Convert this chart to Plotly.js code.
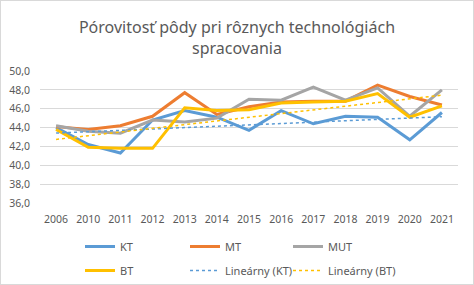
<!DOCTYPE html>
<html>
<head>
<meta charset="utf-8">
<script src="https://cdn.plot.ly/plotly-3.0.1.min.js"></script>
<style>
html,body{margin:0;padding:0;background:#fff;}
#wrap{position:absolute;left:0;top:0;width:472px;height:283px;border:1px solid #d9d9d9;}
#chart{position:absolute;left:-1px;top:-1px;width:474px;height:285px;}
</style>
</head>
<body>
<div id="wrap"><div id="chart"></div></div>
<script>
const years = ["2006","2010","2011","2012","2013","2014","2015","2016","2017","2018","2019","2020","2021"];
const KT  = [44.0,42.2,41.3,44.8,45.8,45.1,43.7,45.8,44.4,45.2,45.1,42.7,45.6];
const MT  = [44.1,43.8,44.2,45.2,47.7,45.4,46.2,46.7,46.8,46.8,48.5,47.3,46.4];
const MUT = [44.2,43.6,43.4,44.8,44.6,45.0,47.0,46.9,48.3,46.9,48.2,45.2,48.0];
const BT  = [43.8,41.9,41.8,41.8,46.1,45.8,45.9,46.6,46.7,46.8,47.6,45.1,46.3];
const yTicks = [36,38,40,42,44,46,48,50];

// Excel-style linear trendline (least squares over category index 1..n)
function linTrend(v){
  const n=v.length; let sx=0,sy=0,sxx=0,sxy=0;
  v.forEach((y,i)=>{const x=i+1;sx+=x;sy+=y;sxx+=x*x;sxy+=x*y;});
  const b=(n*sxy-sx*sy)/(n*sxx-sx*sx), a=(sy-b*sx)/n;
  return v.map((_,i)=>a+b*(i+1));
}

const font = "'Noto Sans', sans-serif";
const txt = "#595959";
function tr(name,y,color,leg,width,dash){
  return {type:'scatter',mode:'lines',name:name,x:years,y:y,legendgroup:name,
    line:{color:color,width:width,dash:dash},legend:leg,hoverinfo:'skip'};
}
const data = [
  tr('KT',KT,'#5B9BD5','legend',3,'solid'),
  tr('MT',MT,'#ED7D31','legend2',3,'solid'),
  tr('MUT',MUT,'#A5A5A5','legend3',3,'solid'),
  tr('BT',BT,'#FFC000','legend',3,'solid'),
  tr('Lineárny (KT)',linTrend(KT),'#5B9BD5','legend2',1.5,'dot'),
  tr('Lineárny (BT)',linTrend(BT),'#FFC000','legend3',1.5,'dot')
];
const legCommon = {orientation:'v',xref:'container',yref:'container',xanchor:'left',yanchor:'top',
  font:{family:font,size:11,color:txt},tracegroupgap:5,
  bgcolor:'rgba(0,0,0,0)',itemclick:false,traceorder:'grouped'};
const legTop = 1-232/285;
const layout = {
  width:474,height:285,
  paper_bgcolor:'rgba(0,0,0,0)',plot_bgcolor:'rgba(0,0,0,0)',
  margin:{l:40,r:16,t:71,b:82,autoexpand:false},
  separators:', ',
  title:{text:'Pórovitosť pôdy pri rôznych technológiách<br>spracovania',
    font:{family:font,size:16,color:txt},x:0.5,xanchor:'center',y:1-33/285,yanchor:'middle',yref:'container'},
  xaxis:{type:'category',range:[-0.5,years.length-0.5],showgrid:false,zeroline:false,showline:false,ticks:'',ticklabelstandoff:8,
    tickfont:{family:font,size:10.5,color:txt},fixedrange:true,automargin:false},
  yaxis:{range:[36,50],tickvals:yTicks,tickformat:'.1f',showgrid:true,gridcolor:'#d9d9d9',gridwidth:1,
    zeroline:false,showline:false,ticks:'',ticklabelstandoff:9,tickfont:{family:font,size:10.5,color:txt},fixedrange:true,automargin:false},
  showlegend:true,
  legend:Object.assign({},legCommon,{x:80/474,y:legTop}),
  legend2:Object.assign({},legCommon,{x:185/474,y:legTop}),
  legend3:Object.assign({},legCommon,{x:288/474,y:legTop})
};
Plotly.newPlot('chart',data,layout,{staticPlot:true,displayModeBar:false});
</script>
</body>
</html>
